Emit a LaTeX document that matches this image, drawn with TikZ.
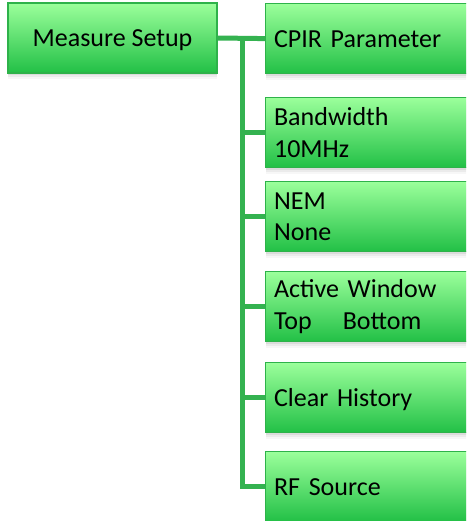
\documentclass[tikz,border=0pt]{standalone}
\usepackage{fontspec}
\setmainfont{Carlito}
\usetikzlibrary{shadows}
\definecolor{boxtop}{RGB}{155,255,155}
\definecolor{boxbot}{RGB}{34,192,70}
\definecolor{boxline}{RGB}{46,178,74}
\definecolor{wire}{RGB}{52,178,80}
\tikzset{
  softshadow/.style={
    drop shadow={shadow xshift=0pt,shadow yshift=-2pt,opacity=.14},
    drop shadow={shadow xshift=0pt,shadow yshift=-4pt,opacity=.10},
    drop shadow={shadow xshift=0pt,shadow yshift=-6pt,opacity=.06}},
  menubox/.style={softshadow, draw=boxline, line width=1.2pt,
    top color=boxtop, bottom color=boxbot, minimum height=70pt,
    inner ysep=0pt, font=\fontsize{26}{31.5}\selectfont},
  oneline/.style={text height=22pt, text depth=4pt},
  rootbox/.style={menubox, oneline, minimum width=209pt, inner xsep=0pt},
  itembox/.style={menubox, anchor=north west, text width=200pt,
    inner xsep=8.5pt, align=left},
  link/.style={draw=wire, line width=5pt, line join=miter}
}
\begin{document}
\begin{tikzpicture}[x=1pt,y=1pt]
  \clip (0,0) rectangle (466,-521);
  \fill[white] (0,0) rectangle (466,-521);
  % root of the menu
  \node[rootbox] (ms) at (112.5,-38) {Measure Setup};
  % submenu entries
  \node[itembox,oneline] (cpir) at (265,-3) {CPIR Parameter};
  \node[itembox] (bw)   at (265,-97)  {Bandwidth\\10MHz};
  \node[itembox] (nem)  at (265,-181) {NEM\\None};
  \node[itembox] (aw)   at (265,-271) {Active Window\\Top\hspace{31pt}Bottom};
  \node[itembox,oneline] (ch) at (265,-362) {Clear History};
  \node[itembox,oneline] (rf) at (265,-451) {RF Source};
  % tree connectors
  \coordinate (tx) at (242,0);
  \draw[link] (ms.east) -- (cpir.west);
  \draw[link] (ms.east -| tx) |- (rf.west);
  \foreach \n in {bw,nem,aw,ch}
    \draw[link] (\n.west -| tx) -- (\n.west);
\end{tikzpicture}
\end{document}
